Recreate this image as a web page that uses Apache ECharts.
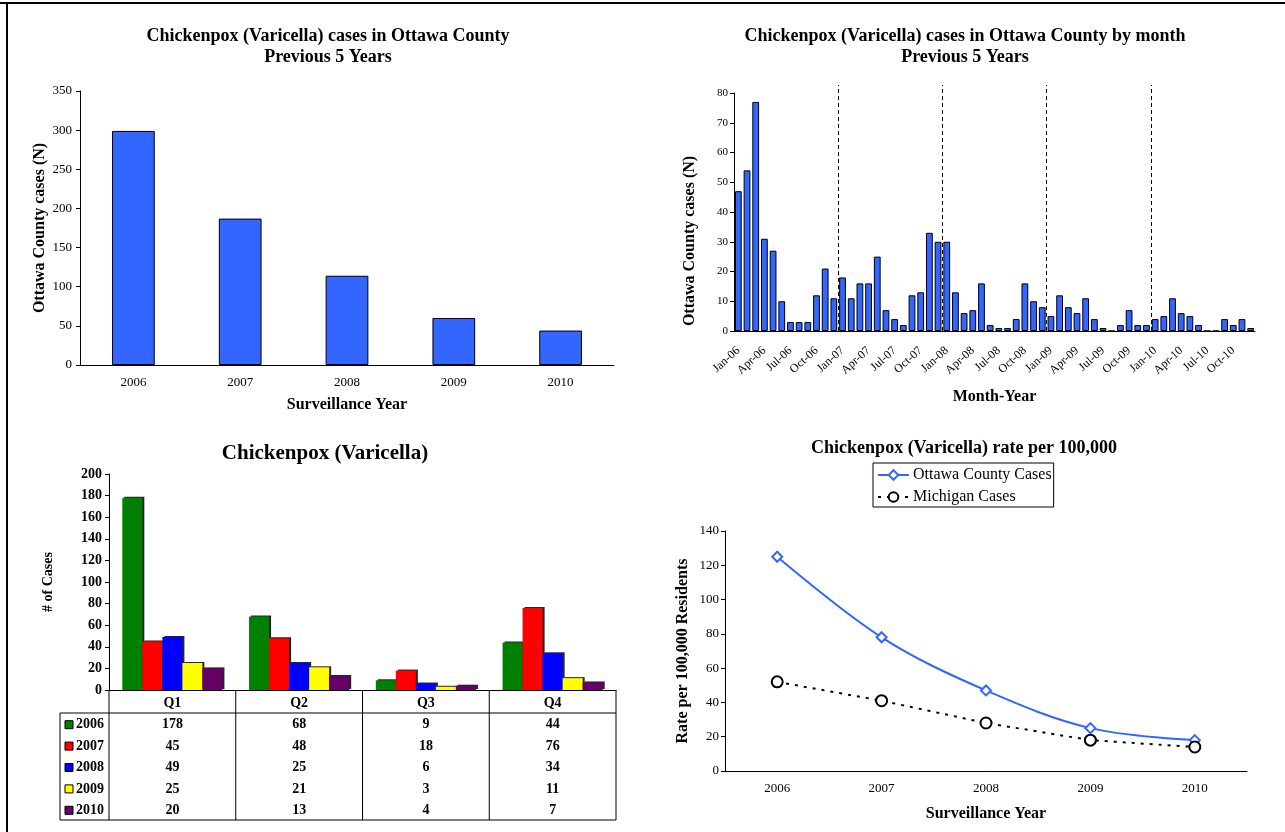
<!DOCTYPE html>
<html lang="en">
<head>
    <meta charset="UTF-8">
    <title>Chickenpox (Varicella)</title>
    <script src="https://cdn.jsdelivr.net/npm/echarts@6/dist/echarts.min.js"></script>
    <style>
        * {
            margin: 0;
            padding: 0
        }

        html, body {
            width: 100%;
            height: 100%;
            background: #fff;
        }

        #main {
            width: 1285px;
            height: 832px;
        }
    </style>
</head>
<body>
<div id="main"></div>
<script type="text/javascript">
    /*-------------------- data -----------------------------*/
    var years = ['2006', '2007', '2008', '2009', '2010'];
    var yearTotals = [299, 187, 114, 60, 44];

    var monthNames = ['Jan', 'Feb', 'Mar', 'Apr', 'May', 'Jun', 'Jul', 'Aug', 'Sep', 'Oct', 'Nov', 'Dec'];
    var yearSuffix = ['06', '07', '08', '09', '10'];
    var monthCases = [
        47, 54, 77, 31, 27, 10, 3, 3, 3, 12, 21, 11,
        18, 11, 16, 16, 25, 7, 4, 2, 12, 13, 33, 30,
        30, 13, 6, 7, 16, 2, 1, 1, 4, 16, 10, 8,
        5, 12, 8, 6, 11, 4, 1, 0, 2, 7, 2, 2,
        4, 5, 11, 6, 5, 2, 0, 0, 4, 2, 4, 1
    ];

    var quarters = ['Q1', 'Q2', 'Q3', 'Q4'];
    var quarterly2006 = [178, 68, 9, 44];
    var quarterly2007 = [45, 48, 18, 76];
    var quarterly2008 = [49, 25, 6, 34];
    var quarterly2009 = [25, 21, 3, 11];
    var quarterly2010 = [20, 13, 4, 7];
    var quarterlyByYear = [quarterly2006, quarterly2007, quarterly2008, quarterly2009, quarterly2010];

    var ottawaRate = [125, 78, 47, 25, 18];
    var michiganRate = [52, 41, 28, 18, 14];

    /*-------------------- styles -----------------------------*/
    var SERIF = 'Liberation Serif';
    var BAR_BLUE = '#3366FF';
    var yearColors = ['#008000', '#FF0000', '#0000FF', '#FFFF00', '#660066'];

    var monthLabels = [];
    yearSuffix.forEach(function (y) {
        monthNames.forEach(function (m) {
            monthLabels.push(m + '-' + y);
        });
    });

    var blackLine = {lineStyle: {color: '#000', width: 1}};

    var chart = echarts.init(document.getElementById('main'));

    function titleOf(text, x, top, size, lh) {
        return {
            text: text, left: x, top: top, textAlign: 'center', padding: 0,
            textStyle: {fontFamily: SERIF, fontSize: size, fontWeight: 'bold', color: '#000', lineHeight: lh}
        };
    }

    var quarterSeries = years.map(function (y, i) {
        return {
            name: y,
            type: 'bar',
            xAxisIndex: 2,
            yAxisIndex: 2,
            barGap: '0%',
            barCategoryGap: '21%',
            data: quarterlyByYear[i],
            itemStyle: {
                color: yearColors[i],
                shadowColor: 'rgba(0,0,0,0.85)',
                shadowOffsetX: 2,
                shadowOffsetY: -1,
                shadowBlur: 0
            }
        };
    });

    chart.setOption({
        animation: false,
        backgroundColor: '#fff',
        textStyle: {fontFamily: SERIF, color: '#000'},
        title: [
            titleOf('Chickenpox (Varicella) cases in Ottawa County\nPrevious 5 Years', 328, 26, 18, 21),
            titleOf('Chickenpox (Varicella) cases in Ottawa County by month\nPrevious 5 Years', 965, 26, 18, 21),
            titleOf('Chickenpox (Varicella)', 325, 442, 21, 24),
            titleOf('Chickenpox (Varicella) rate per 100,000', 964, 438, 18, 21)
        ],
        legend: {
            data: ['Ottawa County Cases', 'Michigan Cases'],
            orient: 'vertical',
            left: 873,
            top: 463,
            padding: [4, 2, 2, 4],
            itemGap: 6,
            itemWidth: 31,
            itemHeight: 12,
            borderColor: '#000',
            borderWidth: 1,
            borderRadius: 0,
            textStyle: {fontFamily: SERIF, fontSize: 16, color: '#000', padding: [0, 0, 0, -1]}
        },
        grid: [
            {left: 80, top: 91, width: 534, height: 274},
            {left: 734, top: 93, width: 521, height: 238},
            {left: 109, top: 474, width: 507, height: 216},
            {left: 725, top: 531, width: 522, height: 240},
            // overlay for the year divider lines, a bit taller than the monthly plot
            {left: 734, top: 85, width: 521, height: 246}
        ],
        xAxis: [
            {
                gridIndex: 0, type: 'category', data: years,
                name: 'Surveillance Year', nameLocation: 'middle', nameGap: 32,
                nameTextStyle: {fontSize: 16, fontWeight: 'bold', color: '#000'},
                axisLine: blackLine, axisTick: {length: 5, lineStyle: {color: '#000'}},
                axisLabel: {fontSize: 13, color: '#000', margin: 11}
            },
            {
                gridIndex: 1, type: 'category', data: monthLabels,
                name: 'Month-Year', nameLocation: 'middle', nameGap: 58,
                nameTextStyle: {fontSize: 16, fontWeight: 'bold', color: '#000'},
                axisLine: blackLine,
                axisTick: {interval: 0, length: 4, lineStyle: {color: '#000'}},
                axisLabel: {interval: 2, rotate: 42, fontSize: 12, color: '#000', margin: 18}
            },
            {
                gridIndex: 2, type: 'category', data: quarters,
                axisLine: blackLine, axisTick: {show: false}, axisLabel: {show: false}
            },
            {
                gridIndex: 3, type: 'category', data: years,
                name: 'Surveillance Year', nameLocation: 'middle', nameGap: 35,
                nameTextStyle: {fontSize: 16, fontWeight: 'bold', color: '#000'},
                axisLine: blackLine, axisTick: {length: 5, lineStyle: {color: '#000'}},
                axisLabel: {fontSize: 13, color: '#000', margin: 11}
            },
            {
                gridIndex: 4, type: 'value', min: 0, max: monthLabels.length, show: false
            }
        ],
        yAxis: [
            {
                gridIndex: 0, type: 'value', min: 0, max: 350, interval: 50,
                name: 'Ottawa County cases (N)', nameLocation: 'middle', nameGap: 32,
                nameTextStyle: {fontSize: 16, fontWeight: 'bold', color: '#000'},
                axisLine: {show: true, lineStyle: {color: '#000'}},
                axisTick: {show: true, length: 4, lineStyle: {color: '#000'}},
                axisLabel: {fontSize: 13, color: '#000', margin: 8},
                splitLine: {show: false}
            },
            {
                gridIndex: 1, type: 'value', min: 0, max: 80, interval: 10,
                name: 'Ottawa County cases (N)', nameLocation: 'middle', nameGap: 36,
                nameTextStyle: {fontSize: 16, fontWeight: 'bold', color: '#000', padding: [0, 58, 0, 0]},
                axisLine: {show: true, lineStyle: {color: '#000'}},
                axisTick: {show: true, length: 4, lineStyle: {color: '#000'}},
                axisLabel: {fontSize: 11, color: '#000', margin: 6},
                splitLine: {show: false}
            },
            {
                gridIndex: 2, type: 'value', min: 0, max: 200, interval: 20,
                name: '# of Cases', nameLocation: 'middle', nameGap: 54,
                nameTextStyle: {fontSize: 14, fontWeight: 'bold', color: '#000'},
                axisLine: {show: true, lineStyle: {color: '#000'}},
                axisTick: {show: true, length: 4, lineStyle: {color: '#000'}},
                axisLabel: {fontSize: 14, fontWeight: 'bold', color: '#000', margin: 7},
                splitLine: {show: false}
            },
            {
                gridIndex: 3, type: 'value', min: 0, max: 140, interval: 20,
                name: 'Rate per 100,000 Residents', nameLocation: 'middle', nameGap: 34,
                nameTextStyle: {fontSize: 16, fontWeight: 'bold', color: '#000'},
                axisLine: {show: true, lineStyle: {color: '#000'}},
                axisTick: {show: true, length: 4, lineStyle: {color: '#000'}},
                axisLabel: {fontSize: 13, color: '#000', margin: 6},
                splitLine: {show: false}
            },
            {
                gridIndex: 4, type: 'value', min: 0, max: 1, show: false
            }
        ],
        series: [
            {
                name: 'Cases by year',
                type: 'bar',
                xAxisIndex: 0,
                yAxisIndex: 0,
                barCategoryGap: '60%',
                data: yearTotals,
                itemStyle: {color: BAR_BLUE, borderColor: '#000', borderWidth: 1}
            },
            {
                name: 'Cases by month',
                type: 'bar',
                xAxisIndex: 1,
                yAxisIndex: 1,
                barCategoryGap: '22%',
                data: monthCases,
                itemStyle: {color: BAR_BLUE, borderColor: '#000', borderWidth: 1}
            },
            {
                // year dividers on the monthly chart (invisible carrier line)
                name: 'dividers',
                type: 'line',
                xAxisIndex: 4,
                yAxisIndex: 4,
                data: [[0, 0], [monthLabels.length, 0]],
                symbol: 'none',
                lineStyle: {opacity: 0},
                silent: true,
                z: 5,
                markLine: {
                    silent: true,
                    symbol: ['none', 'none'],
                    label: {show: false},
                    lineStyle: {color: '#000', type: [4, 3], width: 1},
                    data: [1, 2, 3, 4].map(function (k) {
                        return {xAxis: k * 12};
                    })
                }
            }
        ].concat(quarterSeries).concat([
            {
                name: 'Ottawa County Cases',
                type: 'line',
                xAxisIndex: 3,
                yAxisIndex: 3,
                smooth: 0.35,
                data: ottawaRate,
                symbol: 'emptyDiamond',
                symbolSize: 10,
                lineStyle: {color: BAR_BLUE, width: 2},
                itemStyle: {color: BAR_BLUE}
            },
            {
                name: 'Michigan Cases',
                type: 'line',
                xAxisIndex: 3,
                yAxisIndex: 3,
                data: michiganRate,
                symbol: 'emptyCircle',
                symbolSize: 11,
                lineStyle: {color: '#000', width: 2, type: [3, 6]},
                itemStyle: {color: '#000'}
            }
        ])
    });

    /*-------------------- data table under quarterly chart -----------------------------*/
    var qCenters = quarters.map(function (q) {
        return chart.convertToPixel({xAxisIndex: 2}, q);
    });
    var cw = qCenters[1] - qCenters[0];
    var tLeft = qCenters[0] - cw / 2;
    var tRight = qCenters[qCenters.length - 1] + cw / 2;
    var tTop = chart.convertToPixel({yAxisIndex: 2}, 0);
    var headH = 23, rowH = 21.4;
    var keyLeft = tLeft - 49;
    var tBottom = tTop + headH + rowH * years.length;

    function line(x1, y1, x2, y2, w) {
        return {
            type: 'line', silent: true,
            shape: {x1: x1, y1: y1, x2: x2, y2: y2},
            style: {stroke: '#000', lineWidth: w || 1}
        };
    }

    function text(str, x, y, align) {
        return {
            type: 'text', silent: true,
            style: {
                text: str, x: x, y: y, fill: '#000',
                font: 'bold 14px "' + SERIF + '"',
                textAlign: align || 'center', textVerticalAlign: 'middle',
                align: align || 'center', verticalAlign: 'middle'
            }
        };
    }

    var g = [];
    // page frame (top and left edge)
    g.push(line(0, 3, 1285, 3, 2));
    g.push(line(7, 3, 7, 832, 2));

    for (var i = 0; i <= quarters.length; i++) {
        g.push(line(tLeft + i * cw, tTop, tLeft + i * cw, tBottom));
    }
    g.push(line(keyLeft, tTop + headH, tRight, tTop + headH));
    g.push(line(keyLeft, tBottom, tRight, tBottom));
    g.push(line(keyLeft, tTop + headH, keyLeft, tBottom));

    quarters.forEach(function (q, qi) {
        g.push(text(q, qCenters[qi], tTop + 13));
    });
    years.forEach(function (y, yi) {
        var cy = tTop + headH + rowH * (yi + 0.5) + 1;
        g.push({
            type: 'rect', silent: true,
            shape: {x: keyLeft + 5, y: cy - 4, width: 8, height: 8},
            style: {fill: yearColors[yi], stroke: '#000', lineWidth: 1}
        });
        g.push(text(y, keyLeft + 16, cy, 'left'));
        quarterlyByYear[yi].forEach(function (v, qi) {
            g.push(text(String(v), qCenters[qi], cy));
        });
    });

    chart.setOption({graphic: g});
</script>
</body>
</html>
